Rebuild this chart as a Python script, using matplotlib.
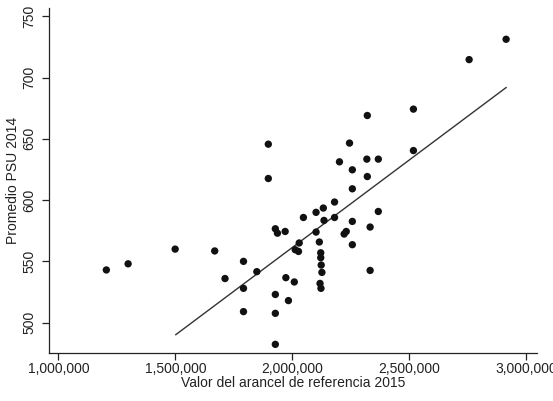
import matplotlib
matplotlib.use("Agg")
import matplotlib.pyplot as plt
from matplotlib.ticker import FuncFormatter

plt.rcParams['font.family'] = ['Liberation Sans', 'DejaVu Sans']

arancel = [1205000, 1298000, 1499000, 1668000, 1712000, 1791000, 1791000, 1791000,
           1848000, 1897000, 1897000, 1927000, 1936000, 1927000, 1927000, 1927000,
           1969000, 1972000, 1983000, 2008000, 2012000, 2026000, 2029000, 2047000,
           2101000, 2101000, 2115000, 2121000, 2121000, 2123000, 2126000, 2118000,
           2122000, 2132000, 2135000, 2180000, 2180000, 2201000, 2221000, 2230000,
           2244000, 2256000, 2256000, 2256000, 2256000, 2318000, 2320000, 2320000,
           2332000, 2332000, 2367000, 2367000, 2517000, 2517000, 2755000, 2913000]
psu = [543, 548, 560, 558.5, 536, 550, 528, 509,
       541.6, 645.6, 617.6, 576.6, 573, 523, 507.6, 482.3,
       574.4, 536.7, 518, 533.2, 559.5, 558.1, 565, 585.8,
       590, 573.9, 565.8, 557, 553, 547, 541, 532,
       528, 593.5, 583.4, 598.4, 585.8, 631.2, 572.3, 574.4,
       646.5, 624.7, 609.2, 582.6, 563.6, 633.4, 669, 619.2,
       578, 542.6, 633.4, 590.7, 674.2, 640.4, 714.6, 731.2]

fit_x = [1501700, 2913000]
fit_y = [490.2, 691.8]

x_ticks = [1000000, 1500000, 2000000, 2500000, 3000000]
y_ticks = [500, 550, 600, 650, 700, 750]

fig = plt.figure(figsize=(5.53, 4.01), dpi=100)
ax = fig.add_axes([49/553, 47.7/401, 488/553, 345.3/401])

ax.scatter(arancel, psu, s=28, color='#111111', edgecolors='none', zorder=3)
ax.plot(fit_x, fit_y, color='#333333', linewidth=1.0, zorder=2)

ax.set_xlim(960000, 3045000)
ax.set_ylim(475, 756.7)
ax.set_xticks(x_ticks)
ax.set_yticks(y_ticks)
ax.xaxis.set_major_formatter(FuncFormatter(lambda v, p: f"{int(v):,}"))
ax.yaxis.set_major_formatter(FuncFormatter(lambda v, p: f"{int(v)}"))

for lab in ax.get_yticklabels():
    lab.set_rotation(90)
    lab.set_va('center')

ax.tick_params(axis='both', direction='out', length=5, width=0.9, colors='#222222',
               labelsize=10)
ax.tick_params(axis='x', pad=1.5)
ax.tick_params(axis='y', pad=4)

for side in ['top', 'right']:
    ax.spines[side].set_visible(False)
for side in ['left', 'bottom']:
    ax.spines[side].set_color('#222222')
    ax.spines[side].set_linewidth(0.9)

ax.set_xlabel('Valor del arancel de referencia 2015', fontsize=10, color='#222222', labelpad=0)
ax.set_ylabel('Promedio PSU 2014', fontsize=10, color='#222222', labelpad=2)

fig.savefig('out.png', dpi=100, facecolor='white')
